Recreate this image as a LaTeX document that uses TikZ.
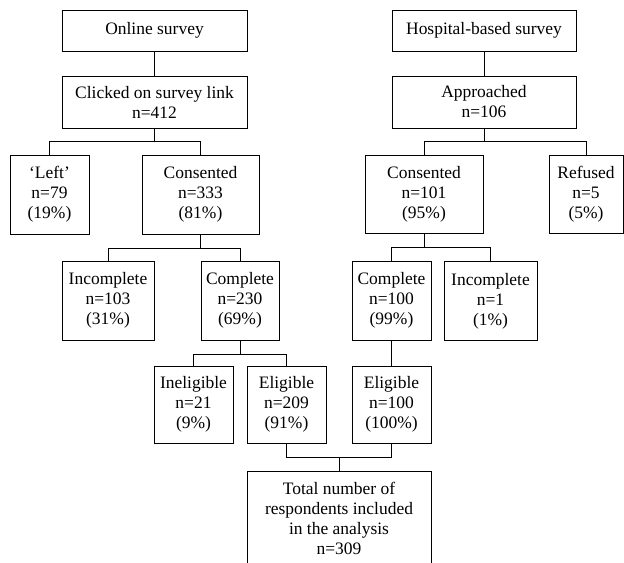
\documentclass[tikz,border=0pt]{standalone}
\usepackage{fontspec}
\setmainfont{Liberation Serif}
\usetikzlibrary{calc}
\tikzset{
  box/.style={draw=black,line width=0.6pt,inner sep=0pt,align=center,
    font=\fontsize{13.1}{15}\selectfont},
  bw/.style={minimum width=#1*0.75pt},
  bh/.style={minimum height=#1*0.75pt},
  link/.style={draw=black,line width=0.6pt},
}
\begin{document}
\begin{tikzpicture}[x=0.75pt,y=-0.75pt]
  \useasboundingbox (0,0) rectangle (624,563);
  % online arm
  \node[box,bw=185,bh=41] (online) at (154.5,30.5) {Online survey};
  \node[box,bw=185,bh=52] (clicked) at (154.5,102) {Clicked on survey link\\n=412};
  \node[box,bw=79,bh=79] (left) at (49.5,194.5) {‘Left’\\n=79\\(19\%)};
  \node[box,bw=117,bh=79] (consOn) at (200.5,194.5) {Consented\\n=333\\(81\%)};
  \node[box,bw=92,bh=79] (incOn) at (108,300.5) {Incomplete\\n=103\\(31\%)};
  \node[box,bw=78,bh=79] (compOn) at (240,300.5) {Complete\\n=230\\(69\%)};
  \node[box,bw=79,bh=77] (inelig) at (193.5,404.5) {Ineligible\\n=21\\(9\%)};
  \node[box,bw=79,bh=77] (eligOn) at (286.5,404.5) {Eligible\\n=209\\(91\%)};
  % hospital arm
  \node[box,bw=184,bh=41] (hosp) at (484,30.5) {Hospital-based survey};
  \node[box,bw=184,bh=52] (appr) at (484,102) {Approached\\n=106};
  \node[box,bw=118,bh=78] (consHo) at (424,194) {Consented\\n=101\\(95\%)};
  \node[box,bw=74,bh=78] (refused) at (586,194) {Refused\\n=5\\(5\%)};
  \node[box,bw=79,bh=79] (compHo) at (391.5,300.5) {Complete\\n=100\\(99\%)};
  \node[box,bw=93,bh=79] (incHo) at (490.5,301) {Incomplete\\n=1\\(1\%)};
  \node[box,bw=79,bh=77] (eligHo) at (391.5,404.5) {Eligible\\n=100\\(100\%)};
  % total
  \node[box,bw=184,bh=95] (total) at (339,518.5)
    {Total number of\\respondents included\\in the analysis\\n=309};
  % connectors
  \draw[link] (online.south) -- (clicked.north);
  \draw[link] (hosp.south) -- (appr.north);
  \draw[link] (compHo.south) -- (eligHo.north);
  \foreach \p/\c in {clicked/left,clicked/consOn,consOn/incOn,consOn/compOn,
    compOn/inelig,compOn/eligOn,appr/consHo,appr/refused,consHo/compHo,consHo/incHo}
    \draw[link] (\p.south) -- ++(0,13.5) -| (\c.north);
  \foreach \c in {eligOn,eligHo}
    \draw[link] (\c.south) -- ++(0,14) -| (total.north);
\end{tikzpicture}
\end{document}
